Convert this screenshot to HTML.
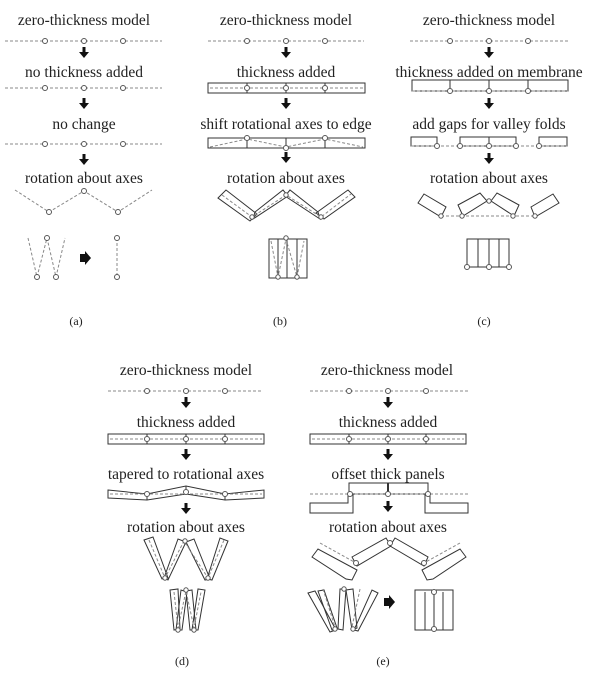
<!DOCTYPE html>
<html><head><meta charset="utf-8"><style>
html,body{margin:0;padding:0;background:#fff}
svg{display:block}
text{font-family:"Liberation Serif",serif;font-size:15.5px;fill:#222;text-anchor:middle}
.d{stroke:#888;stroke-width:1;stroke-dasharray:3,2;fill:none}
.s{stroke:#333;stroke-width:1;fill:none}
.c{stroke:#555;stroke-width:1;fill:#fff}
.a{fill:#111}
</style></head><body>
<svg width="600" height="687" viewBox="0 0 600 687" xmlns="http://www.w3.org/2000/svg">
<defs>
<g id="ar"><rect x="-1.5" y="0" width="3" height="5" class="a"/><polygon points="-5,5 5,5 0,11" class="a"/></g>
</defs>

<!-- (a) -->
<text x="84" y="25">zero-thickness model</text>
<line x1="5" y1="41" x2="162" y2="41" class="d"/>
<circle cx="45" cy="41" r="2.5" class="c"/><circle cx="84" cy="41" r="2.5" class="c"/><circle cx="123" cy="41" r="2.5" class="c"/>
<use href="#ar" x="84" y="47"/>
<text x="84" y="77">no thickness added</text>
<line x1="5" y1="88" x2="162" y2="88" class="d"/>
<circle cx="45" cy="88" r="2.5" class="c"/><circle cx="84" cy="88" r="2.5" class="c"/><circle cx="123" cy="88" r="2.5" class="c"/>
<use href="#ar" x="84" y="98"/>
<text x="84" y="129">no change</text>
<line x1="5" y1="144" x2="162" y2="144" class="d"/>
<circle cx="45" cy="144" r="2.5" class="c"/><circle cx="84" cy="144" r="2.5" class="c"/><circle cx="123" cy="144" r="2.5" class="c"/>
<use href="#ar" x="84" y="154"/>
<text x="84" y="183">rotation about axes</text>
<polyline points="15,190 49,212 84,191 118,212 152,190" class="d"/>
<circle cx="49" cy="212" r="2.5" class="c"/><circle cx="84" cy="191" r="2.5" class="c"/><circle cx="118" cy="212" r="2.5" class="c"/>
<polyline points="28,238 37,277 47,238 56,277 65,238" class="d"/>
<circle cx="47" cy="238" r="2.5" class="c"/><circle cx="37" cy="277" r="2.5" class="c"/><circle cx="56" cy="277" r="2.5" class="c"/>
<polygon points="80,254 85,254 85,251 91,258 85,265 85,262 80,262" class="a"/>
<line x1="117" y1="238" x2="117" y2="277" class="d"/>
<circle cx="117" cy="238" r="2.5" class="c"/><circle cx="117" cy="277" r="2.5" class="c"/>
<text x="76" y="325" style="font-size:12px">(a)</text>

<!-- (b) -->
<text x="286" y="25">zero-thickness model</text>
<line x1="208" y1="41" x2="364" y2="41" class="d"/>
<circle cx="247" cy="41" r="2.5" class="c"/><circle cx="286" cy="41" r="2.5" class="c"/><circle cx="325" cy="41" r="2.5" class="c"/>
<use href="#ar" x="286" y="47"/>
<text x="286" y="77">thickness added</text>
<rect x="208" y="83" width="157" height="10" class="s"/>
<line x1="210" y1="88" x2="363" y2="88" class="d"/>
<line x1="247" y1="83" x2="247" y2="93" class="s"/><line x1="286" y1="83" x2="286" y2="93" class="s"/><line x1="325" y1="83" x2="325" y2="93" class="s"/>
<circle cx="247" cy="88" r="2.5" class="c"/><circle cx="286" cy="88" r="2.5" class="c"/><circle cx="325" cy="88" r="2.5" class="c"/>
<use href="#ar" x="286" y="98"/>
<text x="286" y="129">shift rotational axes to edge</text>
<rect x="208" y="138" width="157" height="10" class="s"/>
<line x1="247" y1="138" x2="247" y2="148" class="s"/><line x1="286" y1="138" x2="286" y2="148" class="s"/><line x1="325" y1="138" x2="325" y2="148" class="s"/>
<polyline points="210,147 247,139 286,147 325,139 363,147" class="d"/>
<circle cx="247" cy="138" r="2.5" class="c"/><circle cx="286" cy="148" r="2.5" class="c"/><circle cx="325" cy="138" r="2.5" class="c"/>
<use href="#ar" x="286" y="152"/>
<text x="286" y="183">rotation about axes</text>
<g class="s">
<polygon points="218,198 226,190 257,214 250,221"/>
<polygon points="253,219 255,212 283,190 288,196"/>
<polygon points="285,196 290,190 318,212 320,219"/>
<polygon points="324,219 316,213 348,190 355,197"/>
</g>
<polyline points="222,195 252,217 286,195 321,217 351,194" class="d"/>
<circle cx="252" cy="217" r="2.2" class="c"/><circle cx="286" cy="195" r="2.2" class="c"/><circle cx="321" cy="217" r="2.2" class="c"/>
<rect x="269" y="239" width="38" height="39" class="s"/>
<line x1="278" y1="239" x2="278" y2="278" class="s"/><line x1="287" y1="239" x2="287" y2="278" class="s"/><line x1="297" y1="239" x2="297" y2="278" class="s"/>
<polyline points="271,241 278,277 286,239 297,277 304,241" class="d"/>
<circle cx="286" cy="238" r="2.2" class="c"/><circle cx="278" cy="277" r="2.2" class="c"/><circle cx="297" cy="277" r="2.2" class="c"/>
<text x="280" y="325" style="font-size:12px">(b)</text>

<!-- (c) -->
<text x="489" y="25">zero-thickness model</text>
<line x1="410" y1="41" x2="568" y2="41" class="d"/>
<circle cx="450" cy="41" r="2.5" class="c"/><circle cx="489" cy="41" r="2.5" class="c"/><circle cx="528" cy="41" r="2.5" class="c"/>
<use href="#ar" x="489" y="47"/>
<text x="489" y="77">thickness added on membrane</text>
<rect x="412" y="80" width="156" height="11" class="s"/>
<line x1="450" y1="80" x2="450" y2="91" class="s"/><line x1="489" y1="80" x2="489" y2="91" class="s"/><line x1="528" y1="80" x2="528" y2="91" class="s"/>
<line x1="412" y1="91" x2="568" y2="91" class="d"/>
<circle cx="450" cy="91" r="2.5" class="c"/><circle cx="489" cy="91" r="2.5" class="c"/><circle cx="528" cy="91" r="2.5" class="c"/>
<use href="#ar" x="489" y="98"/>
<text x="489" y="129">add gaps for valley folds</text>
<rect x="411" y="137" width="26" height="9" class="s"/>
<rect x="460" y="137" width="56" height="9" class="s"/>
<line x1="489" y1="137" x2="489" y2="146" class="s"/>
<rect x="539" y="137" width="28" height="9" class="s"/>
<line x1="411" y1="146" x2="567" y2="146" class="d"/>
<circle cx="437" cy="146" r="2.5" class="c"/><circle cx="460" cy="146" r="2.5" class="c"/><circle cx="489" cy="146" r="2.5" class="c"/><circle cx="516" cy="146" r="2.5" class="c"/><circle cx="539" cy="146" r="2.5" class="c"/>
<use href="#ar" x="489" y="153"/>
<text x="489" y="183">rotation about axes</text>
<g class="s">
<polygon points="418,203 424,194 446,207 441,217"/>
<polygon points="458,205 480,193 487,201 463,216"/>
<polygon points="491,201 497,193 519,205 514,216"/>
<polygon points="531,207 553,194 559,203 535,217"/>
</g>
<line x1="441" y1="216" x2="536" y2="216" class="d"/>
<circle cx="441" cy="216" r="2.2" class="c"/><circle cx="462" cy="216" r="2.2" class="c"/><circle cx="489" cy="201" r="2.2" class="c"/><circle cx="513" cy="216" r="2.2" class="c"/><circle cx="535" cy="216" r="2.2" class="c"/>
<rect x="467" y="239" width="42" height="28" class="s"/>
<line x1="478" y1="239" x2="478" y2="267" class="s"/><line x1="489" y1="239" x2="489" y2="267" class="s"/><line x1="499" y1="239" x2="499" y2="267" class="s"/>
<circle cx="467" cy="267" r="2.5" class="c"/><circle cx="489" cy="267" r="2.5" class="c"/><circle cx="509" cy="267" r="2.5" class="c"/>
<text x="484" y="325" style="font-size:12px">(c)</text>

<!-- (d) -->
<text x="186" y="375">zero-thickness model</text>
<line x1="108" y1="391" x2="263" y2="391" class="d"/>
<circle cx="147" cy="391" r="2.5" class="c"/><circle cx="186" cy="391" r="2.5" class="c"/><circle cx="225" cy="391" r="2.5" class="c"/>
<use href="#ar" x="186" y="397"/>
<text x="186" y="427">thickness added</text>
<rect x="108" y="434" width="156" height="10" class="s"/>
<line x1="110" y1="439" x2="262" y2="439" class="d"/>
<line x1="147" y1="434" x2="147" y2="444" class="s"/><line x1="186" y1="434" x2="186" y2="444" class="s"/><line x1="225" y1="434" x2="225" y2="444" class="s"/>
<circle cx="147" cy="439" r="2.5" class="c"/><circle cx="186" cy="439" r="2.5" class="c"/><circle cx="225" cy="439" r="2.5" class="c"/>
<use href="#ar" x="186" y="449"/>
<text x="186" y="479">tapered  to rotational axes</text>
<polygon points="108,490 147,494 186,486 225,494 264,490 264,498 225,500 186,494 147,500 108,498" class="s"/>
<line x1="110" y1="494" x2="262" y2="494" class="d"/>
<line x1="147" y1="494" x2="147" y2="500" class="s"/><line x1="186" y1="486" x2="186" y2="494" class="s"/><line x1="225" y1="494" x2="225" y2="500" class="s"/>
<circle cx="147" cy="494" r="2.5" class="c"/><circle cx="186" cy="492" r="2.5" class="c"/><circle cx="225" cy="494" r="2.5" class="c"/>
<use href="#ar" x="186" y="503"/>
<text x="186" y="532">rotation about axes</text>
<g class="s">
<polygon points="144,540 153,537 168,578 162,579"/>
<polygon points="164,578 168,580 186,542 178,539"/>
<polygon points="186,542 194,539 210,579 205,580"/>
<polygon points="207,579 212,580 228,541 220,538"/>
</g>
<polyline points="149,540 165,578 184,541 208,578 224,540" class="d"/>
<circle cx="165" cy="578" r="2.2" class="c"/><circle cx="185" cy="541" r="2.2" class="c"/><circle cx="208" cy="578" r="2.2" class="c"/>
<g class="s">
<polygon points="170,590 178,589 180,629 174,630"/>
<polygon points="176,630 182,630 187,592 181,590"/>
<polygon points="186,591 192,590 196,630 190,630"/>
<polygon points="192,630 198,630 205,590 198,589"/>
</g>
<polyline points="174,592 178,628 186,591 194,628 201,592" class="d"/>
<circle cx="186" cy="590" r="2.2" class="c"/><circle cx="178" cy="630" r="2.2" class="c"/><circle cx="194" cy="630" r="2.2" class="c"/>
<text x="182" y="665" style="font-size:12px">(d)</text>

<!-- (e) -->
<text x="387" y="375">zero-thickness model</text>
<line x1="310" y1="391" x2="468" y2="391" class="d"/>
<circle cx="349" cy="391" r="2.5" class="c"/><circle cx="388" cy="391" r="2.5" class="c"/><circle cx="426" cy="391" r="2.5" class="c"/>
<use href="#ar" x="388" y="397"/>
<text x="388" y="427">thickness added</text>
<rect x="310" y="434" width="156" height="10" class="s"/>
<line x1="312" y1="439" x2="464" y2="439" class="d"/>
<line x1="349" y1="434" x2="349" y2="444" class="s"/><line x1="388" y1="434" x2="388" y2="444" class="s"/><line x1="426" y1="434" x2="426" y2="444" class="s"/>
<circle cx="349" cy="439" r="2.5" class="c"/><circle cx="388" cy="439" r="2.5" class="c"/><circle cx="426" cy="439" r="2.5" class="c"/>
<use href="#ar" x="388" y="449"/>
<text x="388" y="479">offset thick panels</text>
<rect x="349" y="483" width="79" height="11" class="s"/>
<line x1="388" y1="483" x2="388" y2="494" class="s" style="stroke-width:2"/>
<polygon points="310,503 348,503 348,494 353,494 353,513 310,513" class="s"/>
<polygon points="468,503 430,503 430,494 425,494 425,513 468,513" class="s"/>
<line x1="310" y1="494" x2="468" y2="494" class="d"/>
<circle cx="350" cy="494" r="2.5" class="c"/><circle cx="388" cy="494" r="2.5" class="c"/><circle cx="428" cy="494" r="2.5" class="c"/>
<use href="#ar" x="388" y="501"/>
<text x="388" y="532">rotation about axes</text>
<g class="s">
<polygon points="352,557 386,538 391,546 357,566"/>
<polygon points="390,546 395,538 428,557 424,566"/>
<polygon points="312,557 318,549 357,570 352,580 346,579"/>
<polygon points="466,557 460,549 422,570 427,580 433,579"/>
</g>
<line x1="320" y1="543" x2="356" y2="563" class="d"/>
<line x1="460" y1="543" x2="424" y2="563" class="d"/>
<circle cx="356" cy="563" r="2.5" class="c"/><circle cx="390" cy="543" r="2.5" class="c"/><circle cx="424" cy="563" r="2.5" class="c"/>
<g class="s">
<polygon points="308,593 315,591 336,630 330,632"/>
<polygon points="318,591 324,590 337,628 332,630"/>
<polygon points="338,629 343,630 346,589 340,589"/>
<polygon points="346,590 353,589 357,628 352,630"/>
<polygon points="354,630 358,631 378,593 372,590"/>
</g>
<line x1="323" y1="589" x2="335" y2="627" class="d"/>
<line x1="360" y1="589" x2="352" y2="627" class="d"/>
<circle cx="344" cy="589" r="2.2" class="c"/><circle cx="335" cy="629" r="2.2" class="c"/><circle cx="353" cy="629" r="2.2" class="c"/>
<polygon points="384,598 389,598 389,595 395,602 389,609 389,606 384,606" class="a"/>
<rect x="415" y="590" width="38" height="40" class="s"/>
<polyline points="425,592 425,630 443,630 443,592" class="s"/>
<line x1="434" y1="592" x2="434" y2="630" class="s"/>
<circle cx="434" cy="592" r="2.5" class="c"/><circle cx="434" cy="629" r="2.5" class="c"/>
<text x="383" y="665" style="font-size:12px">(e)</text>
</svg>
</body></html>
